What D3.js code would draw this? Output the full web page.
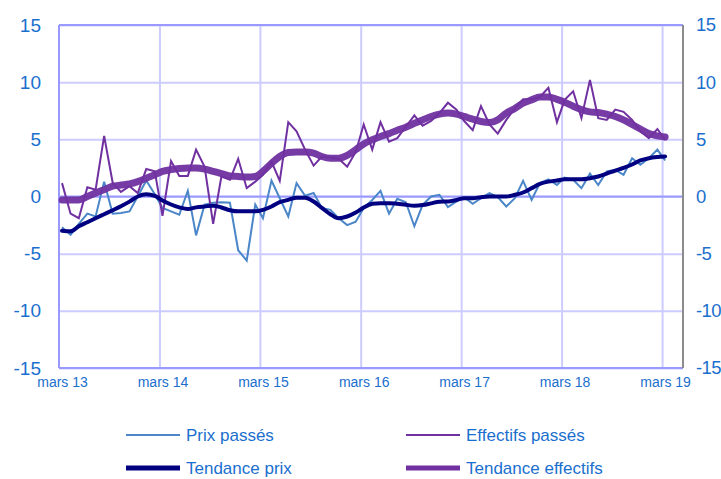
<!DOCTYPE html>
<html>
<head>
<meta charset="utf-8">
<script src="https://cdn.jsdelivr.net/npm/d3@7"></script>
<style>
  body { margin: 0; background: #fff; }
  svg { display: block; font-family: "Liberation Sans", Arial, sans-serif; }
</style>
</head>
<body>
<div id="chart"></div>
<script>
// monthly series, mars 2013 -> mars 2019
var prixPasses = [-2.7, -3.35, -2.4, -1.5, -1.75, 1.3, -1.5, -1.45, -1.3, 0.0, 1.4, 0.2,
  -1.0, -1.3, -1.6, 0.5, -3.4, -0.7, -0.55, -0.5, -0.55, -4.7, -5.6, -0.7,
  -1.9, 1.4, -0.15, -1.75, 1.17, 0.06, 0.3, -1.0, -1.17, -1.9, -2.5, -2.2,
  -1.0, -0.3, 0.5, -1.5, -0.2, -0.5, -2.6, -0.73, 0.0, 0.15, -0.93, -0.44,
  -0.06, -0.64, -0.15, 0.3, -0.06, -0.87, -0.15, 1.37, -0.3, 1.17, 1.5, 1.0,
  1.66, 1.46, 0.73, 2.0, 1.0, 2.2, 2.33, 1.9, 3.35, 2.77, 3.35, 4.1, 3.15];

var effectifsPasses = [1.17, -1.5, -1.9, 0.8, 0.6, 5.3, 1.2, 0.4, 0.9, 0.3, 2.4, 2.2,
  -1.7, 3.1, 1.8, 1.8, 4.1, 2.6, -2.4, 1.75, 1.46, 3.3, 0.73, 1.3,
  1.9, 3.06, 1.37, 6.5, 5.7, 4.1, 2.7, 3.5, 3.4, 3.3, 2.6, 3.9,
  6.3, 4.1, 6.5, 4.8, 5.1, 6.1, 7.1, 6.2, 6.6, 7.3, 8.2, 7.6,
  6.6, 5.8, 7.9, 6.3, 5.5, 6.7, 7.7, 8.5, 8.5, 8.7, 9.5, 6.5,
  8.45, 9.2, 6.85, 10.2, 6.85, 6.7, 7.6, 7.4, 6.7, 5.7, 5.1, 5.9, 4.95];

var tendancePrix = [-3.0, -3.05, -2.6, -2.25, -1.9, -1.55, -1.2, -0.85, -0.45, 0.0, 0.2, 0.05,
  -0.35, -0.7, -0.95, -1.1, -0.95, -0.87, -0.8, -0.96, -1.2, -1.3, -1.3, -1.3,
  -1.17, -0.87, -0.5, -0.3, -0.1, -0.1, -0.44, -1.0, -1.55, -1.9, -1.75, -1.4,
  -0.96, -0.64, -0.58, -0.58, -0.64, -0.73, -0.8, -0.75, -0.6, -0.45, -0.44, -0.3,
  -0.15, -0.15, -0.06, 0.0, 0.0, 0.0, 0.15, 0.35, 0.73, 1.1, 1.3, 1.4,
  1.5, 1.5, 1.5, 1.6, 1.75, 2.0, 2.27, 2.5, 2.8, 3.15, 3.35, 3.45, 3.5];

var tendanceEffectifs = [-0.3, -0.3, -0.3, 0.0, 0.3, 0.6, 0.9, 1.0, 1.1, 1.3, 1.6, 1.9,
  2.2, 2.35, 2.45, 2.5, 2.5, 2.4, 2.2, 2.0, 1.8, 1.75, 1.7, 1.75,
  2.2, 2.9, 3.5, 3.85, 3.9, 3.9, 3.8, 3.5, 3.35, 3.35, 3.6, 4.1,
  4.6, 4.96, 5.25, 5.5, 5.8, 6.06, 6.4, 6.7, 7.0, 7.2, 7.3, 7.2,
  7.0, 6.76, 6.56, 6.47, 6.7, 7.3, 7.7, 8.16, 8.45, 8.7, 8.7, 8.5,
  8.25, 7.9, 7.6, 7.4, 7.35, 7.2, 7.0, 6.7, 6.3, 5.9, 5.5, 5.3, 5.2];

var xTickLabels = ["mars 13", "mars 14", "mars 15", "mars 16", "mars 17", "mars 18", "mars 19"];
var yTicks = [-15, -10, -5, 0, 5, 10, 15];
var seriesNames = ["Prix passés", "Effectifs passés", "Tendance prix", "Tendance effectifs"];

var months = d3.timeMonth.range(new Date(2013, 2, 1), new Date(2019, 3, 1))
  .map(function(d) { return new Date(d.getFullYear(), d.getMonth(), 12); });
var yearTicks = d3.timeYear.every(1).range(new Date(2013, 0, 1), new Date(2020, 0, 1))
  .map(function(d) { return new Date(d.getFullYear(), 2, 1); });

var w = 721, h = 479;
var pLeft = 59, pRight = 683, pTop = 25, pBottom = 368;
var textCol = "#1a6fce";
var fmt = function(d) { return String(d); }; // plain hyphen, as in the original

var svg = d3.select("#chart").append("svg")
  .attr("width", w)
  .attr("height", h);

var x = d3.scaleTime()
  .domain([new Date(2013, 2, 1), new Date(2019, 4, 16)])
  .range([pLeft, pRight]);
var y = d3.scaleLinear().domain([-15, 15]).range([pBottom, pTop]);

// grid
var gy = svg.append("g")
  .attr("transform", "translate(" + pLeft + ",0)")
  .call(d3.axisLeft(y).tickValues(yTicks).tickSize(-(pRight - pLeft)).tickFormat(""));
gy.select(".domain").remove();
gy.selectAll("line").attr("stroke", "#ccccff").attr("stroke-width", 2);

var gx = svg.append("g")
  .attr("transform", "translate(0," + pBottom + ")")
  .call(d3.axisBottom(x).tickValues(yearTicks.slice(1)).tickSize(-(pBottom - pTop)).tickFormat(""));
gx.select(".domain").remove();
gx.selectAll("line").attr("stroke", "#ccccff").attr("stroke-width", 2);

// frame
function frameLine(x1, x2, y1, y2, col) {
  svg.append("line").attr("x1", x1).attr("x2", x2).attr("y1", y1).attr("y2", y2)
    .attr("stroke", col).attr("stroke-width", 2);
}
frameLine(pLeft, pRight, y(0), y(0), "#9999ff");
frameLine(pLeft, pRight, pTop, pTop, "#9999ff");
frameLine(pLeft, pRight, pBottom, pBottom, "#9999ff");
frameLine(pLeft, pLeft, pTop, pBottom, "#9999ff");
frameLine(pRight, pRight, pTop, pBottom, "#8c8c8c");

// axis labels
var la = svg.append("g")
  .attr("transform", "translate(" + pLeft + ",0)")
  .call(d3.axisLeft(y).tickValues(yTicks).tickSize(0).tickPadding(18).tickFormat(fmt));
la.select(".domain").remove();
la.selectAll("text").attr("fill", textCol).style("font-size", "19px")
  .style("font-family", "Liberation Sans, Arial, sans-serif");

var ra = svg.append("g")
  .attr("transform", "translate(" + pRight + ",0)")
  .call(d3.axisRight(y).tickValues(yTicks).tickSize(0).tickPadding(13).tickFormat(fmt));
ra.select(".domain").remove();
ra.selectAll("text").attr("fill", textCol).style("font-size", "18.5px")
  .style("letter-spacing", "-0.6px")
  .style("font-family", "Liberation Sans, Arial, sans-serif");

var ba = svg.append("g")
  .attr("transform", "translate(3," + pBottom + ")")
  .call(d3.axisBottom(x).tickValues(yearTicks).tickSize(0).tickPadding(9)
    .tickFormat(function(d, i) { return xTickLabels[i]; }));
ba.select(".domain").remove();
ba.selectAll("text").attr("fill", textCol).style("font-size", "14px")
  .style("font-family", "Liberation Sans, Arial, sans-serif");

// lines
var raw = d3.line()
  .x(function(d, i) { return x(months[i]); })
  .y(function(d) { return y(d); });
var smooth = d3.line()
  .x(function(d, i) { return x(months[i]); })
  .y(function(d) { return y(d); })
  .curve(d3.curveMonotoneX);

svg.append("path").datum(prixPasses).attr("d", raw)
  .attr("fill", "none").attr("stroke", "#4a86c8").attr("stroke-width", 2);
svg.append("path").datum(effectifsPasses).attr("d", raw)
  .attr("fill", "none").attr("stroke", "#7030a0").attr("stroke-width", 2);
svg.append("path").datum(tendancePrix).attr("d", smooth)
  .attr("fill", "none").attr("stroke", "#000080").attr("stroke-width", 4)
  .attr("stroke-linecap", "round");
svg.append("path").datum(tendanceEffectifs).attr("d", smooth)
  .attr("fill", "none").attr("stroke", "#7030a0").attr("stroke-width", 7)
  .attr("stroke-linecap", "round").attr("stroke-opacity", 0.95);

// legend
var legendItems = [
  { name: seriesNames[0], color: "#4a86c8", width: 2, col: 0, row: 0 },
  { name: seriesNames[1], color: "#7030a0", width: 2, col: 1, row: 0 },
  { name: seriesNames[2], color: "#000080", width: 5, col: 0, row: 1 },
  { name: seriesNames[3], color: "#7030a0", width: 5, col: 1, row: 1 }
];
var lg = svg.selectAll(".leg").data(legendItems).enter().append("g")
  .attr("class", "leg")
  .attr("transform", function(d) {
    return "translate(" + (126 + d.col * 280) + "," + (435 + d.row * 33) + ")";
  });
lg.append("line").attr("x1", 0).attr("x2", 54).attr("y1", 0).attr("y2", 0)
  .attr("stroke", function(d) { return d.color; })
  .attr("stroke-width", function(d) { return d.width; });
lg.append("text").attr("x", 60).attr("y", 0).attr("dy", "0.35em")
  .attr("fill", textCol).style("font-size", "17px")
  .text(function(d) { return d.name; });
</script>
</body>
</html>
